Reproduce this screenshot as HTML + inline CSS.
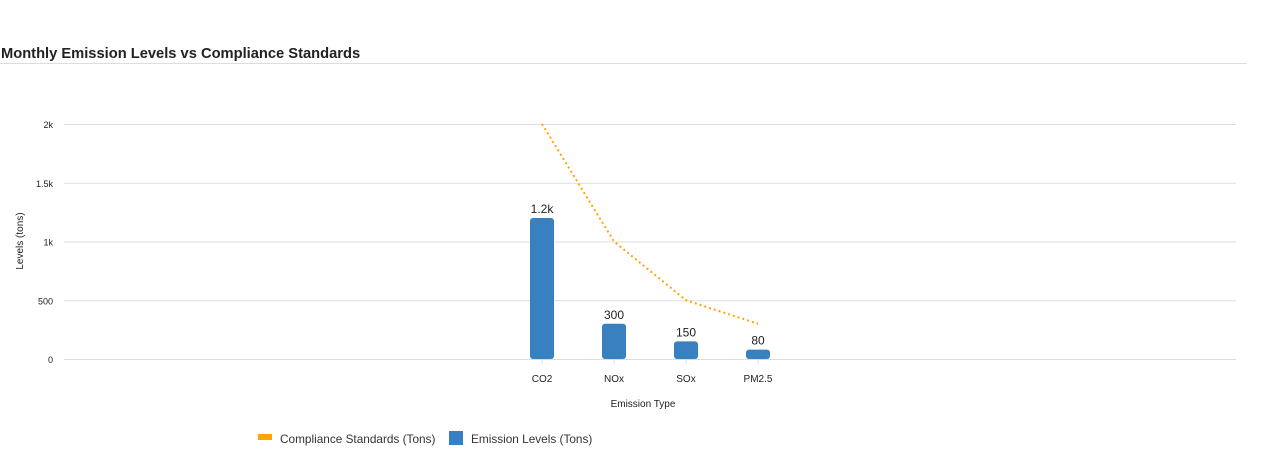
<!DOCTYPE html>
<html><head><meta charset="utf-8"><style>
body{margin:0;background:#fff;width:1280px;height:454px;overflow:hidden;font-family:"Liberation Sans",sans-serif;}
</style></head><body>
<svg width="1280" height="454" font-family="Liberation Sans, sans-serif">
<text x="1" y="58" font-size="14.7" font-weight="bold" fill="#222">Monthly Emission Levels vs Compliance Standards</text>
<line x1="0" y1="63.5" x2="1247" y2="63.5" stroke="#ddd"/>
<g id="grid"></g><g id="bars"></g><g id="line"></g>
<text x="643" y="407" font-size="10" fill="#222" text-anchor="middle">Emission Type</text>
<text transform="translate(23,241) rotate(-90)" font-size="10" fill="#222" text-anchor="middle">Levels (tons)</text>
<g><rect x="258" y="434" width="14" height="6" fill="#FFA500"/><text x="280" y="443" font-size="11.8" fill="#333">Compliance Standards (Tons)</text></g>
<g><rect x="449" y="431" width="14" height="14" fill="#3880C0"/><text x="471" y="443" font-size="11.8" fill="#333">Emission Levels (Tons)</text></g>
</svg>
<script>
const categories=["CO2","NOx","SOx","PM2.5"];
const emissions=[1200,300,150,80];
const emissionLabels=["1.2k","300","150","80"];
const compliance=[2000,1000,500,300];
const yTicks=[0,500,1000,1500,2000];
const yTickLabels=["0","500","1k","1.5k","2k"];
const NS="http://www.w3.org/2000/svg";
const y=v=>359-v*(235/2000);
const x=i=>542+i*72;
function mk(t,a,p){const e=document.createElementNS(NS,t);for(const k in a)e.setAttribute(k,a[k]);p.appendChild(e);return e;}
const grid=document.getElementById('grid');
yTicks.forEach((v,i)=>{
  const l=mk('line',{x1:64,x2:1236,y1:y(v)+0.5,y2:y(v)+0.5,stroke:'#ddd'},grid);
  
  
  const t=mk('text',{x:53,y:y(v)+4,'font-size':9,fill:'#222','text-anchor':'end'},grid);
  t.textContent=yTickLabels[i];
  
  
});
const bars=document.getElementById('bars');
categories.forEach((c,i)=>{
  const tk=mk('line',{x1:x(i),x2:x(i),y1:360,y2:364,stroke:'#ddd'},bars);
  
  
  const b=mk('rect',{x:x(i)-12,y:y(emissions[i]),width:24,height:359-y(emissions[i]),rx:3,fill:'#3880C0'},bars);
  
  
  const lb=mk('text',{x:x(i),y:y(emissions[i])-5,'font-size':12,fill:'#222','text-anchor':'middle'},bars);
  lb.textContent=emissionLabels[i];
  
  
  const t=mk('text',{x:x(i),y:382,'font-size':10,fill:'#222','text-anchor':'middle'},bars);
  t.textContent=c;
  
  
});
const p=mk('polyline',{points:compliance.map((v,i)=>x(i)+','+y(v)).join(' '),fill:'none',stroke:'#FFA500','stroke-width':2,'stroke-dasharray':'2 3'},document.getElementById('line'));


</script>
</body></html>
